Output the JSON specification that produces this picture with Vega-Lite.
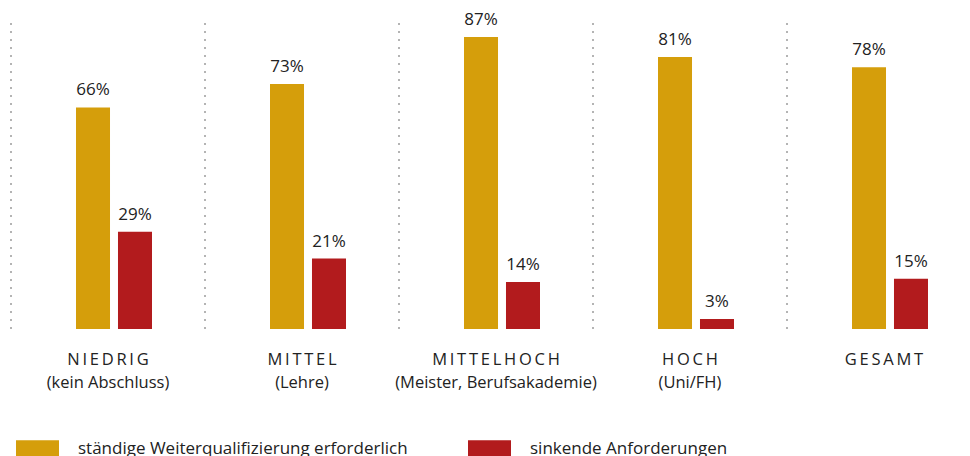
{
  "$schema": "https://vega.github.io/schema/vega-lite/v6.json",
  "width": 970,
  "height": 329,
  "autosize": {"type": "none"},
  "padding": {"left": 11, "top": 0, "right": 0, "bottom": 127},
  "config": {"view": {"stroke": null}, "font": "Open Sans"},
  "data": {
    "values": [
      {"group": "NIEDRIG", "series": "ständige Weiterqualifizierung erforderlich", "value": 0.66},
      {"group": "NIEDRIG", "series": "sinkende Anforderungen", "value": 0.29},
      {"group": "MITTEL", "series": "ständige Weiterqualifizierung erforderlich", "value": 0.73},
      {"group": "MITTEL", "series": "sinkende Anforderungen", "value": 0.21},
      {"group": "MITTELHOCH", "series": "ständige Weiterqualifizierung erforderlich", "value": 0.87},
      {"group": "MITTELHOCH", "series": "sinkende Anforderungen", "value": 0.14},
      {"group": "HOCH", "series": "ständige Weiterqualifizierung erforderlich", "value": 0.81},
      {"group": "HOCH", "series": "sinkende Anforderungen", "value": 0.03},
      {"group": "GESAMT", "series": "ständige Weiterqualifizierung erforderlich", "value": 0.78},
      {"group": "GESAMT", "series": "sinkende Anforderungen", "value": 0.15}
    ]
  },
  "layer": [
    {
      "mark": {"type": "bar"},
      "encoding": {
        "x": {
          "field": "group",
          "type": "nominal",
          "sort": ["NIEDRIG", "MITTEL", "MITTELHOCH", "HOCH", "GESAMT"],
          "scale": {"paddingInner": 0, "paddingOuter": 0},
          "axis": {
            "title": null,
            "domain": false,
            "ticks": false,
            "labelAngle": 0,
            "labelFont": "Open Sans",
            "labelFontSize": 16.5,
            "labelColor": "#222",
            "labelLineHeight": 23,
            "labelPadding": 22,
            "labelBaseline": "top",
            "labelLimit": 400,
            "labelOverlap": false,
            "labelExpr": "datum.label == 'NIEDRIG' ? ['N\u2009I\u2009E\u2009D\u2009R\u2009I\u2009G', '(kein Abschluss)'] : datum.label == 'MITTEL' ? ['M\u2009I\u2009T\u2009T\u2009E\u2009L', '(Lehre)'] : datum.label == 'MITTELHOCH' ? ['M\u2009I\u2009T\u2009T\u2009E\u2009L\u2009H\u2009O\u2009C\u2009H', '(Meister, Berufsakademie)'] : datum.label == 'HOCH' ? ['H\u2009O\u2009C\u2009H', '(Uni/FH)'] : ['G\u2009E\u2009S\u2009A\u2009M\u2009T']"
          }
        },
        "xOffset": {
          "field": "series",
          "type": "nominal",
          "sort": ["ständige Weiterqualifizierung erforderlich", "sinkende Anforderungen"],
          "scale": {"paddingInner": 0.19, "paddingOuter": 0, "range": [65, 141]}
        },
        "y": {"field": "value", "type": "quantitative", "scale": {"domain": [0, 0.98], "nice": false, "zero": true}, "axis": null},
        "color": {
          "field": "series",
          "type": "nominal",
          "sort": ["ständige Weiterqualifizierung erforderlich", "sinkende Anforderungen"],
          "scale": {"range": ["#D59E0B", "#B21B1D"]},
          "legend": {
            "orient": "none",
            "legendX": 5,
            "legendY": 427,
            "direction": "horizontal",
            "title": null,
            "symbolType": "M-1,-0.4H1V0.4H-1Z",
            "symbolSize": 1849,
            "symbolStrokeWidth": 0,
            "labelFont": "Open Sans",
            "labelFontSize": 17,
            "labelColor": "#222",
            "labelOffset": 19,
            "labelLimit": 500,
            "columnPadding": 60
          }
        }
      }
    },
    {
      "mark": {"type": "text", "baseline": "bottom", "dy": -8, "fontSize": 17, "font": "Open Sans", "color": "#222"},
      "encoding": {
        "x": {"field": "group", "type": "nominal", "sort": ["NIEDRIG", "MITTEL", "MITTELHOCH", "HOCH", "GESAMT"]},
        "xOffset": {
          "field": "series",
          "type": "nominal",
          "sort": ["ständige Weiterqualifizierung erforderlich", "sinkende Anforderungen"]
        },
        "y": {"field": "value", "type": "quantitative", "scale": {"domain": [0, 0.98], "nice": false}},
        "text": {"field": "value", "type": "quantitative", "format": ".0%"}
      }
    },
    {
      "mark": {"type": "rule", "stroke": "#b0b0b0", "strokeWidth": 1.5, "strokeDash": [2, 6]},
      "encoding": {
        "x": {"field": "group", "type": "nominal", "sort": ["NIEDRIG", "MITTEL", "MITTELHOCH", "HOCH", "GESAMT"], "bandPosition": 0},
        "y": {"datum": 0, "type": "quantitative", "scale": {"domain": [0, 0.98], "nice": false}},
        "y2": {"datum": 0.915}
      }
    }
  ]
}
